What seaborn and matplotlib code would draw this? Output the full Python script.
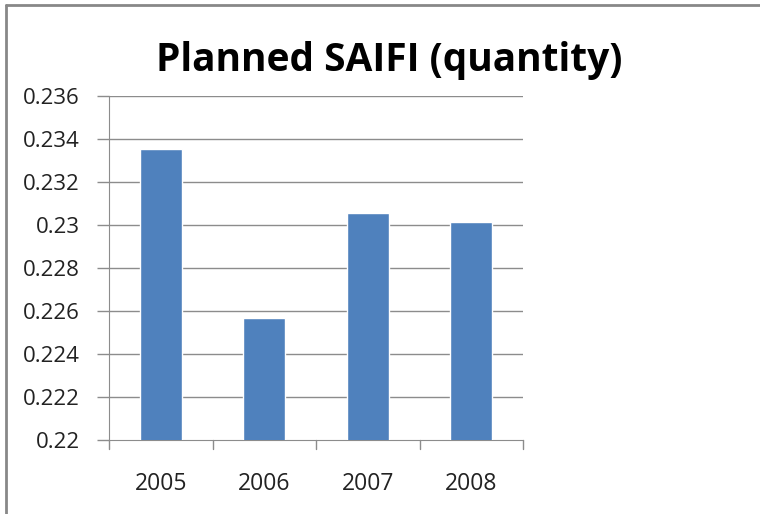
import matplotlib
matplotlib.use('Agg')
import matplotlib.pyplot as plt
from matplotlib.lines import Line2D
import seaborn as sns
import pandas as pd

# Dane
years = ['2005', '2006', '2007', '2008']
saifi = [0.23351, 0.22566, 0.23053, 0.23011]
yticks = [0.22, 0.222, 0.224, 0.226, 0.228, 0.23, 0.232, 0.234, 0.236]
ytick_labels = ['0.22', '0.222', '0.224', '0.226', '0.228', '0.23', '0.232', '0.234', '0.236']

df = pd.DataFrame({'Rok': years, 'SAIFI': saifi})

sns.set_style('white')
plt.rcParams['font.family'] = ['Open Sans', 'DejaVu Sans']

fig = plt.figure(figsize=(7.6, 5.14), dpi=100)
ax = fig.add_axes([109 / 760, 1 - 440 / 514, 414 / 760, 344.5 / 514])

sns.barplot(data=df, x='Rok', y='SAIFI', color='#4f81bd', width=0.41,
            saturation=1, ax=ax, zorder=3)

ax.set_ylim(0.22, 0.236)
ax.set_xlim(-0.5, 3.5)
ax.set_yticks(yticks)
ax.set_yticklabels(ytick_labels, fontsize=16, color='#222222')
ax.set_xticks([0, 1, 2, 3])
ax.set_xticklabels(years, fontsize=16.5, color='#222222')
ax.set_xlabel('')
ax.set_ylabel('')

# siatka
for v in yticks[1:]:
    ax.axhline(v, color='#8c8c8c', lw=1, zorder=1)

for s in ['top', 'right']:
    ax.spines[s].set_visible(False)
ax.spines['left'].set_color('#8c8c8c')
ax.spines['bottom'].set_color('#8c8c8c')

ax.tick_params(axis='y', length=9, width=1, color='#8c8c8c', direction='out', pad=12, left=True)
ax.tick_params(axis='x', length=0, pad=23)
# znaczniki kategorii na osi x
for xb in [-0.5, 0.5, 1.5, 2.5, 3.5]:
    ax.plot([xb, xb], [0, -0.025], transform=ax.get_xaxis_transform(),
            color='#8c8c8c', lw=1, clip_on=False)

fig.text(389 / 760, 1 - 60 / 514, 'Planned SAIFI (quantity)', ha='center', va='center',
         fontsize=28, fontweight='bold', color='black')

# ramka
fig.add_artist(Line2D([6 / 760, 6 / 760], [0, 1 - 5 / 514], transform=fig.transFigure,
                      color='#888888', lw=2))
fig.add_artist(Line2D([6 / 760, 1], [1 - 5 / 514, 1 - 5 / 514], transform=fig.transFigure,
                      color='#888888', lw=2))

fig.savefig('out.png', dpi=100)
